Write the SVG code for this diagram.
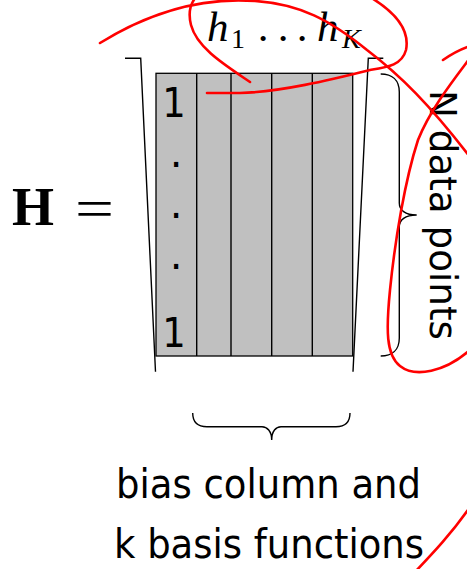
<svg xmlns="http://www.w3.org/2000/svg" width="467" height="569" viewBox="0 0 467 569">
<style>
.ln{fill:none;stroke:#000;stroke-width:1.4}
.red{fill:none;stroke:#ff0000;stroke-width:2.6;stroke-linecap:round;stroke-linejoin:round}
.sans{font-family:"DejaVu Sans","Liberation Sans",sans-serif;fill:#000}
.serif{font-family:"Liberation Serif","DejaVu Serif",serif;fill:#000}
</style>
<rect width="467" height="569" fill="#fff"/>
<g id="H-label">
<text class="serif" x="12" y="225" font-size="54" font-weight="bold">H</text>
<text class="serif" x="75" y="227" font-size="54" textLength="39" lengthAdjust="spacingAndGlyphs">=</text>
</g>
<g id="h-label" class="serif">
<text x="207" y="41" font-size="43" font-style="italic">h</text>
<text x="231" y="48" font-size="28">1</text>
<text x="263" y="41" font-size="43" text-anchor="middle">.</text>
<text x="283" y="41" font-size="43" text-anchor="middle">.</text>
<text x="302" y="41" font-size="43" text-anchor="middle">.</text>
<text x="317" y="41" font-size="43" font-style="italic">h</text>
<text x="342" y="48" font-size="28" font-style="italic">K</text>
</g>
<g id="matrix">
<rect x="156" y="73.3" width="196.7" height="282.7" fill="#c0c0c0" stroke="#000" stroke-width="1.3"/>
<path class="ln" d="M196.7,73.3V356M231,73.3V356M271.7,73.3V356M312.3,73.3V356"/>
<text class="sans" x="174" y="116.7" font-size="41" text-anchor="middle" style="font-family:'DejaVu Sans Condensed','DejaVu Sans',sans-serif">1</text>
<text class="sans" x="176" y="167" font-size="40" text-anchor="middle">.</text>
<text class="sans" x="176" y="218" font-size="40" text-anchor="middle">.</text>
<text class="sans" x="176" y="268.5" font-size="40" text-anchor="middle">.</text>
<text class="sans" x="174" y="346.7" font-size="41" text-anchor="middle" style="font-family:'DejaVu Sans Condensed','DejaVu Sans',sans-serif">1</text>
</g>
<g id="brackets">
<polyline class="ln" points="125,58.3 140.7,58.3 155.5,371.7"/>
<polyline class="ln" points="383.3,58.3 368.3,58.3 353,371.7"/>
</g>
<g id="connectors">
<path id="brace-right" class="ln" d="M380.7,74 C392,74 399.3,80 399.3,92 L399.3,203 C399.3,210 405,215 416.7,215 C405,215 399.3,220 399.3,227 L399.3,338 C399.3,350 392,356 380.7,356"/>
<path id="brace-bottom" class="ln" d="M192.7,413 C192.7,422 198,426.7 207,426.7 L262,426.7 C267,426.7 271.7,431 271.7,440 C271.7,431 276,426.7 281,426.7 L336,426.7 C345,426.7 350,422 350,413"/>
</g>
<g id="N-label">
<text class="sans" transform="translate(430,90) rotate(90)" font-size="37" textLength="250" lengthAdjust="spacingAndGlyphs">N data points</text>
</g>
<g id="bottom-label" class="sans">
<text x="116" y="498" font-size="41" textLength="305" lengthAdjust="spacingAndGlyphs">bias column and</text>
<text x="114" y="558" font-size="40" textLength="310" lengthAdjust="spacingAndGlyphs">k basis functions</text>
</g>
<g id="annotations">
<path class="red" d="M100,43 C150,12 200,-3 255,1 C300,4 330,20 367,50 C400,75 430,105 470,157"/>
<path class="red" d="M250,82 C225,65 197,48 191,25 C186,5 195,-10 220,-15 C260,-25 340,-20 370,-3 C395,12 410,30 406,50 C402,65 388,67 370,70 C330,80 280,92 240,93 L207,93"/>
<path class="red" d="M470,58 C452,82 430,110 418,140 C405,180 395,240 390,290 C386,330 386,355 400,366 C415,378 445,372 470,350"/>
<path class="red" d="M443,60 C450,55 458,50 470,46"/>
<path class="red" d="M470,507 C452,533 433,553 415,572"/>
</g>
</svg>
